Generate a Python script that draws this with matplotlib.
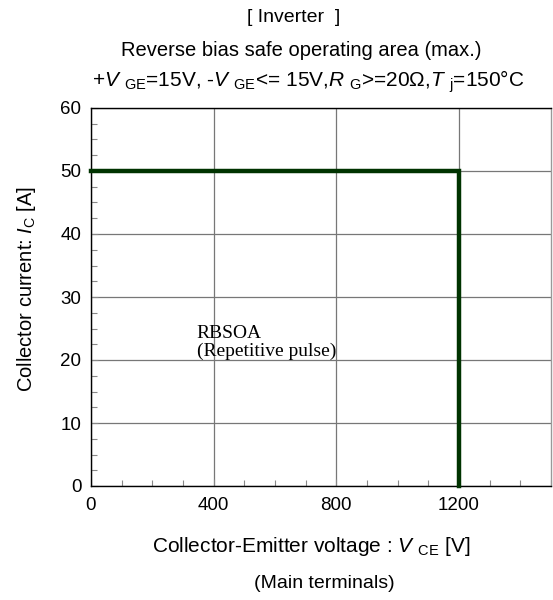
import matplotlib
matplotlib.use("Agg")
import matplotlib.pyplot as plt
from matplotlib.ticker import MultipleLocator

plt.rcParams['font.family'] = ['Liberation Sans', 'DejaVu Sans']
plt.rcParams['mathtext.fontset'] = 'custom'
plt.rcParams['mathtext.rm'] = 'Liberation Sans'
plt.rcParams['mathtext.it'] = 'Liberation Sans:italic'
plt.rcParams['mathtext.bf'] = 'Liberation Sans:bold'

# Data
vce = [0, 1200, 1200]
ic = [50, 50, 0]
x_ticks = [0, 400, 800, 1200]
y_ticks = [0, 10, 20, 30, 40, 50, 60]

fig = plt.figure(figsize=(5.53, 6.0), dpi=100)
ax = fig.add_axes([91/553, 114/600, 460/553, 378/600])

ax.plot(vce, ic, color='#003300', lw=3.2, solid_joinstyle='miter', clip_on=False, zorder=5)

ax.set_xlim(0, 1500)
ax.set_ylim(0, 60)
ax.set_xticks(x_ticks)
ax.set_yticks(y_ticks)
ax.xaxis.set_minor_locator(MultipleLocator(100))
ax.yaxis.set_minor_locator(MultipleLocator(2.5))
ax.tick_params(axis='both', which='major', direction='in', length=5, labelsize=13.5, color='#888888', width=0.8)
ax.tick_params(axis='both', which='minor', direction='in', length=4, color='#888888', width=0.8)
ax.tick_params(axis='x', pad=8)
ax.tick_params(axis='y', pad=7)
ax.grid(True, which='major', color='#777777', lw=0.9)
for s in ['left', 'bottom', 'top']:
    ax.spines[s].set_color('black')
    ax.spines[s].set_linewidth(1.0)
ax.spines['right'].set_color('#999999')
ax.spines['right'].set_linewidth(1.0)

ax.text(345, 25.6, "RBSOA\n(Repetitive pulse)", fontfamily='Liberation Serif', fontsize=14,
        va='top', ha='left', linespacing=1.05)

fig.text(27/553, 1 - 289/600, r"Collector current: $I$$_{\rm C}$ [A]", fontsize=14.5,
         rotation=90, ha='center', va='center')

fig.text(311/553, 1 - 547/600, r"Collector-Emitter voltage : $V$ $_{\rm CE}$ [V]", fontsize=15,
         ha='center', va='center')
fig.text(324/553, 1 - 583/600, "(Main terminals)", fontsize=14, ha='center', va='center')

fig.text(294/553, 1 - 17/600, "[ Inverter  ]", fontsize=14, ha='center', va='center')
fig.text(301/553, 1 - 51/600, "Reverse bias safe operating area (max.)", fontsize=14.5, ha='center', va='center')
fig.text(308/553, 1 - 82/600,
         r"+$V$ $_{\rm GE}$=15V, -$V$ $_{\rm GE}$<= 15V,$R$ $_{\rm G}$>=20Ω,$T$ $_{\rm j}$=150°C",
         fontsize=15, ha='center', va='center')

fig.savefig("out.png", dpi=100)
